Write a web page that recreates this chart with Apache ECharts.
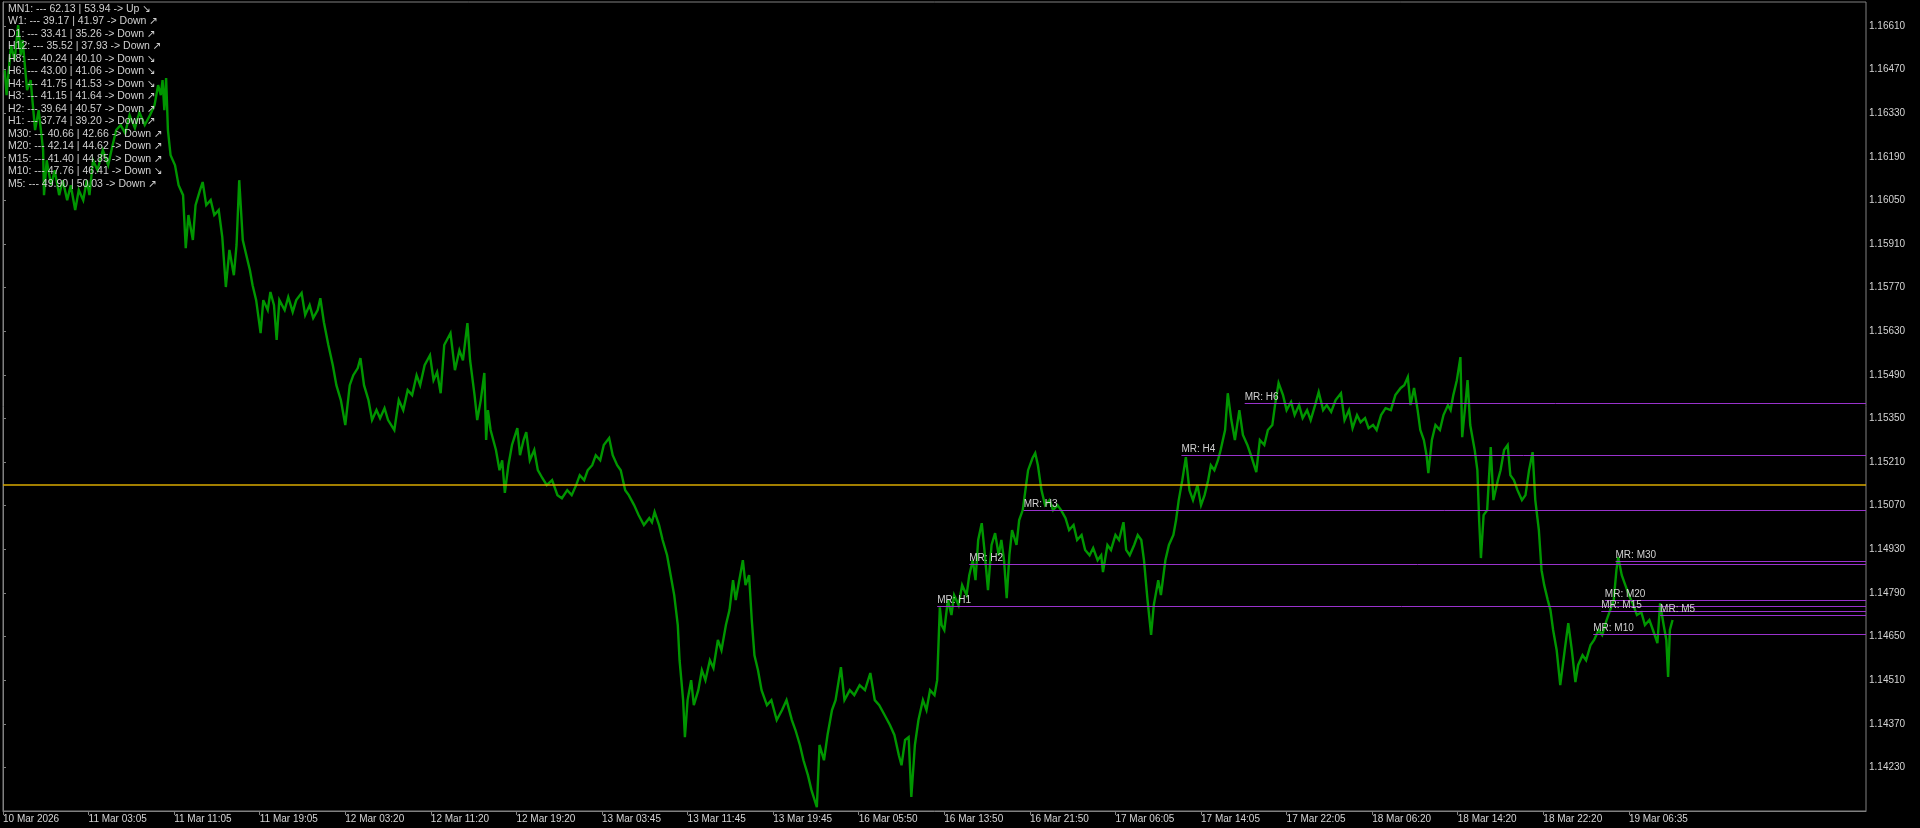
<!DOCTYPE html>
<html>
<head>
<meta charset="utf-8">
<title>EURUSD M5</title>
<script src="https://cdn.jsdelivr.net/npm/echarts@6/dist/echarts.min.js"></script>
<style>
  html, body { margin: 0; padding: 0; background: #000; }
  #chart { width: 1920px; height: 828px; }
</style>
</head>
<body>
<div id="chart"></div>
<script>
// bar index / price (highs and lows alternate)
var priceTrace = [
  [2,1.16468],[4,1.16388],[9,1.16549],[13,1.16500],[17,1.16613],[20,1.16516],[22,1.16565],[27,1.16404],
  [31,1.16436],[36,1.16276],[40,1.16340],[45,1.16212],[46,1.16067],[49,1.16179],[54,1.16099],[58,1.16147],
  [63,1.16067],[67,1.16115],[72,1.16051],[76,1.16099],[81,1.16019],[85,1.16083],[90,1.16051],[94,1.16115],
  [97,1.16067],[101,1.16179],[106,1.16147],[112,1.16212],[118,1.16163],[123,1.16228],[127,1.16276],[132,1.16292],
  [137,1.16266],[142,1.16324],[148,1.16282],[153,1.16333],[159,1.16292],[165,1.16324],[170,1.16356],[174,1.16420],
  [177,1.16388],[179,1.16436],[181,1.16340],[183,1.16443],[185,1.16276],[188,1.16195],[193,1.16163],[197,1.16099],
  [202,1.16067],[205,1.15897],[208,1.16003],[213,1.15923],[216,1.16035],[221,1.16083],[224,1.16109],[228,1.16035],
  [233,1.16051],[237,1.16003],[242,1.16019],[246,1.15932],[250,1.15772],[254,1.15891],[259,1.15810],[262,1.15907],
  [265,1.16115],[269,1.15923],[273,1.15874],[277,1.15826],[280,1.15778],[284,1.15730],[289,1.15624],[292,1.15730],
  [297,1.15698],[300,1.15756],[304,1.15714],[307,1.15602],[310,1.15730],[316,1.15698],[320,1.15740],[325,1.15692],
  [329,1.15730],[335,1.15753],[339,1.15682],[344,1.15714],[348,1.15672],[353,1.15698],[356,1.15736],[360,1.15659],
  [365,1.15586],[370,1.15521],[374,1.15457],[379,1.15409],[384,1.15329],[389,1.15457],[393,1.15489],[398,1.15512],
  [401,1.15544],[405,1.15457],[410,1.15409],[414,1.15345],[419,1.15377],[423,1.15351],[428,1.15383],[432,1.15345],
  [439,1.15313],[444,1.15409],[449,1.15377],[454,1.15441],[459,1.15425],[464,1.15489],[468,1.15457],[473,1.15521],
  [479,1.15553],[483,1.15473],[487,1.15499],[491,1.15431],[495,1.15586],[502,1.15624],[507,1.15505],[512,1.15569],
  [516,1.15537],[521,1.15656],[524,1.15537],[529,1.15425],
  [532,1.15345],[536,1.15409],[540,1.15496],[542,1.15281],[544,1.15377],[547,1.15313],[550,1.15281],[553,1.15249],
  [557,1.15184],[560,1.15216],[563,1.15111],[567,1.15200],[571,1.15265],[577,1.15319],[580,1.15232],[584,1.15281],
  [587,1.15306],[591,1.15216],[596,1.15249],[600,1.15184],[605,1.15159],[610,1.15136],[616,1.15152],[622,1.15104],
  [627,1.15094],[633,1.15120],[638,1.15104],[643,1.15136],[647,1.15168],[652,1.15152],[656,1.15184],[661,1.15200],
  [665,1.15232],[670,1.15216],[674,1.15265],[680,1.15287],[684,1.15232],[689,1.15200],[693,1.15184],[698,1.15120],
  [702,1.15104],[708,1.15072],[713,1.15040],[719,1.15008],[725,1.15030],[728,1.15017],[731,1.15050],[736,1.15008],
  [740,1.14960],[745,1.14911],[748,1.14863],[753,1.14783],[757,1.14687],[759,1.14574],[763,1.14446],[765,1.14327],
  [768,1.14446],[772,1.14510],[775,1.14430],[780,1.14478],[784,1.14542],[788,1.14510],[793,1.14574],[797,1.14549],
  [802,1.14639],[806,1.14606],[811,1.14687],[815,1.14735],[819,1.14831],[822,1.14767],[827,1.14847],[830,1.14895],
  [833,1.14815],[837,1.14847],[840,1.14703],[843,1.14590],[847,1.14542],[851,1.14478],[857,1.14430],[862,1.14446],
  [868,1.14382],[874,1.14414],[879,1.14446],[885,1.14382],[889,1.14350],[894,1.14302],[898,1.14253],[903,1.14205],
  [907,1.14157],[913,1.14102],[916,1.14302],[921,1.14253],[925,1.14334],[930,1.14414],[934,1.14446],[940,1.14552],
  [944,1.14446],[950,1.14478],[955,1.14462],[961,1.14494],[967,1.14478],[973,1.14533],[978,1.14446],[983,1.14430],
  [989,1.14398],[995,1.14366],[1000,1.14334],[1005,1.14269],[1008,1.14237],[1012,1.14318],[1016,1.14327],[1019,1.14135],
  [1023,1.14302],[1027,1.14382],[1032,1.14446],[1036,1.14414],[1040,1.14478],[1045,1.14462],[1048,1.14510],[1051,1.14744],
  [1053,1.14687],[1056,1.14671],[1060,1.14767],[1064,1.14719],[1067,1.14783],[1072,1.14751],[1076,1.14815],[1081,1.14783],
  [1084,1.14847],[1088,1.14895],[1091,1.14831],[1094,1.14960],[1098,1.15014],[1101,1.14928],[1105,1.14799],[1109,1.14944],
  [1113,1.14982],[1117,1.14911],[1120,1.14960],[1123,1.14895],[1126,1.14773],[1129,1.14911],[1132,1.14992],[1137,1.14944],
  [1140,1.15024],[1144,1.15056],[1147,1.15120],[1150,1.15184],[1155,1.15223],[1158,1.15239],[1161,1.15200],[1165,1.15120],
  [1169,1.15072],[1174,1.15088],[1178,1.15056],[1183,1.15072],[1187,1.15056],[1192,1.15030],[1196,1.14992],[1201,1.15008],
  [1205,1.14960],[1210,1.14976],[1214,1.14928],[1219,1.14911],[1223,1.14934],[1228,1.14895],[1232,1.14911],[1234,1.14857],
  [1239,1.14944],[1243,1.14928],[1248,1.14976],[1252,1.14960],[1257,1.15017],[1260,1.14928],[1264,1.14911],[1269,1.14944],
  [1273,1.14976],[1277,1.14960],[1280,1.14895],[1284,1.14767],[1288,1.14655],[1291,1.14751],[1296,1.14831],[1299,1.14783],
  [1304,1.14895],[1308,1.14944],[1313,1.14976],[1316,1.15024],[1319,1.15088],[1323,1.15152],[1327,1.15226],[1331,1.15120],
  [1335,1.15088],[1340,1.15136],[1344,1.15072],[1348,1.15104],[1352,1.15152],[1355,1.15200],[1359,1.15184],[1363,1.15216],
  [1366,1.15249],[1371,1.15313],[1374,1.15431],[1378,1.15345],[1382,1.15281],[1387,1.15377],[1391,1.15297],[1396,1.15265],
  [1400,1.15232],[1406,1.15178],[1410,1.15281],[1415,1.15265],[1419,1.15313],[1424,1.15329],[1427,1.15393],[1431,1.15464],
  [1436,1.15425],[1440,1.15377],[1445,1.15403],[1449,1.15361],[1454,1.15393],[1458,1.15351],[1463,1.15377],[1467,1.15345],
  [1472,1.15393],[1476,1.15435],[1481,1.15377],[1485,1.15393],[1490,1.15371],[1495,1.15409],[1501,1.15431],[1505,1.15345],
  [1510,1.15377],[1514,1.15319],[1519,1.15361],[1523,1.15338],[1528,1.15351],[1532,1.15319],[1537,1.15329],[1541,1.15313],
  [1546,1.15361],[1551,1.15383],[1557,1.15377],[1562,1.15425],[1568,1.15448],
  [1572,1.15457],[1576,1.15483],[1579,1.15393],[1583,1.15448],[1587,1.15377],[1590,1.15313],[1594,1.15281],[1597,1.15232],
  [1599,1.15175],[1603,1.15281],[1607,1.15329],[1612,1.15313],[1616,1.15361],[1621,1.15393],[1624,1.15377],[1627,1.15425],
  [1631,1.15473],[1635,1.15547],[1637,1.15290],[1641,1.15409],[1643,1.15473],[1646,1.15329],[1651,1.15249],[1654,1.15184],
  [1656,1.15024],[1658,1.14902],[1661,1.15040],[1665,1.15056],[1669,1.15258],[1672,1.15088],[1677,1.15152],[1680,1.15184],
  [1684,1.15249],[1688,1.15265],[1691,1.15168],[1695,1.15152],[1699,1.15120],[1704,1.15088],[1708,1.15104],[1712,1.15184],
  [1716,1.15242],[1719,1.15088],[1723,1.14992],[1726,1.14863],[1729,1.14815],[1733,1.14767],[1736,1.14735],[1739,1.14671],
  [1743,1.14606],[1747,1.14494],[1752,1.14606],[1756,1.14693],[1760,1.14606],[1764,1.14504],[1767,1.14558],[1772,1.14590],
  [1776,1.14574],[1781,1.14623],[1785,1.14639],[1790,1.14671],[1794,1.14655],[1799,1.14703],[1803,1.14735],[1807,1.14767],
  [1810,1.14863],[1812,1.14905],[1816,1.14847],[1820,1.14815],[1824,1.14783],[1829,1.14751],[1833,1.14719],[1838,1.14728],
  [1842,1.14687],[1847,1.14703],[1851,1.14671],[1856,1.14629],[1859,1.14757],[1863,1.14687],[1866,1.14639],[1868,1.14520],
  [1870,1.14671],[1873,1.14703]
];

// MR levels: name, price, first bar
var levelNames  = ['MR: H1', 'MR: H2', 'MR: H3', 'MR: H4', 'MR: H6', 'MR: M30', 'MR: M20', 'MR: M15', 'MR: M10', 'MR: M5'];
var levelPrices = [1.14748, 1.14881, 1.15056, 1.15232, 1.15399, 1.14892, 1.14767, 1.14732, 1.14658, 1.14719];
var levelStarts = [1048, 1084, 1145, 1322, 1393, 1809, 1797, 1793, 1784, 1859];
var bidPrice = 1.15136;

var timeTickBars = [0, 96, 192, 288, 384, 480, 576, 672, 768, 864, 960, 1056, 1152, 1248, 1344, 1440, 1536, 1632, 1728, 1824];
var timeLabels = ['10 Mar 2026', '11 Mar 03:05', '11 Mar 11:05', '11 Mar 19:05', '12 Mar 03:20', '12 Mar 11:20',
  '12 Mar 19:20', '13 Mar 03:45', '13 Mar 11:45', '13 Mar 19:45', '16 Mar 05:50', '16 Mar 13:50', '16 Mar 21:50',
  '17 Mar 06:05', '17 Mar 14:05', '17 Mar 22:05', '18 Mar 06:20', '18 Mar 14:20', '18 Mar 22:20', '19 Mar 06:35'];
var priceTicks = [1.14230, 1.14370, 1.14510, 1.14650, 1.14790, 1.14930, 1.15070, 1.15210, 1.15350,
  1.15490, 1.15630, 1.15770, 1.15910, 1.16050, 1.16190, 1.16330, 1.16470, 1.16610];

var infoLines = [
  'MN1: --- 62.13 | 53.94 -> Up \u2198',
  'W1: --- 39.17 | 41.97 -> Down \u2197',
  'D1: --- 33.41 | 35.26 -> Down \u2197',
  'H12: --- 35.52 | 37.93 -> Down \u2197',
  'H8: --- 40.24 | 40.10 -> Down \u2198',
  'H6: --- 43.00 | 41.06 -> Down \u2198',
  'H4: --- 41.75 | 41.53 -> Down \u2198',
  'H3: --- 41.15 | 41.64 -> Down \u2197',
  'H2: --- 39.64 | 40.57 -> Down \u2197',
  'H1: --- 37.74 | 39.20 -> Down \u2197',
  'M30: --- 40.66 | 42.66 -> Down \u2197',
  'M20: --- 42.14 | 44.62 -> Down \u2197',
  'M15: --- 41.40 | 44.85 -> Down \u2197',
  'M10: --- 47.76 | 46.41 -> Down \u2198',
  'M5: --- 49.90 | 50.03 -> Down \u2197'
];

var lastBar = 2090;
var fontFam = '"Liberation Sans", "DejaVu Sans", sans-serif';

var levelLines = [];
for (var i = 0; i < levelNames.length; i++) {
  levelLines.push([
    { name: levelNames[i], coord: [levelStarts[i], levelPrices[i]] },
    { coord: [lastBar, levelPrices[i]] }
  ]);
}
// bid line over the full width
var bidLine = [
  { name: '', coord: [0, bidPrice], lineStyle: { color: '#d9a900', width: 1.5 }, label: { show: false } },
  { coord: [lastBar, bidPrice] }
];

var chart = echarts.init(document.getElementById('chart'));
var option = {
  backgroundColor: '#000000',
  animation: false,
  grid: { left: 1, right: 54, top: 2, bottom: 17, show: true, borderColor: '#808080', borderWidth: 1 },
  xAxis: {
    type: 'value',
    min: 0,
    max: lastBar,
    splitLine: { show: false },
    axisLine: { lineStyle: { color: '#808080', width: 1 } },
    axisTick: { customValues: timeTickBars, length: 4, lineStyle: { color: '#808080' } },
    axisLabel: {
      customValues: timeTickBars,
      formatter: function (v) { return timeLabels[timeTickBars.indexOf(v)] || ''; },
      color: '#d4d4d4', fontSize: 10, fontFamily: fontFam, align: 'left', margin: 3
    }
  },
  yAxis: {
    type: 'value',
    position: 'right',
    min: 1.14090,
    max: 1.16687,
    splitLine: { show: false },
    axisLine: { show: true, lineStyle: { color: '#808080', width: 1 } },
    axisTick: { show: true, customValues: priceTicks, length: 3, lineStyle: { color: '#808080' } },
    axisLabel: {
      customValues: priceTicks,
      formatter: function (v) { return v.toFixed(5); },
      color: '#d4d4d4', fontSize: 10, fontFamily: fontFam, margin: 3
    }
  },
  graphic: infoLines.map(function (t, i) {
    return {
      type: 'text', left: 8, top: 3.5 + 12.5 * i, z: 100, silent: true,
      style: { text: t, fill: '#d0d0d0', font: '10.5px ' + fontFam }
    };
  }),
  series: [
    {
      name: 'EURUSD',
      type: 'line',
      data: priceTrace,
      showSymbol: false,
      silent: true,
      z: 2,
      lineStyle: { color: '#009600', width: 2.4, join: 'miter', miterLimit: 4 }
    },
    {
      name: 'levels',
      type: 'line',
      data: [],
      z: 3,
      markLine: {
        silent: true,
        symbol: ['none', 'none'],
        animation: false,
        lineStyle: { color: '#9932cc', width: 1, type: 'solid' },
        label: {
          show: true, position: 'insideStartTop', formatter: '{b}', distance: [0, 1],
          color: '#d0d0d0', fontSize: 10, fontFamily: fontFam
        },
        data: levelLines.concat([bidLine])
      }
    }
  ]
};
chart.setOption(option);
</script>
</body>
</html>
